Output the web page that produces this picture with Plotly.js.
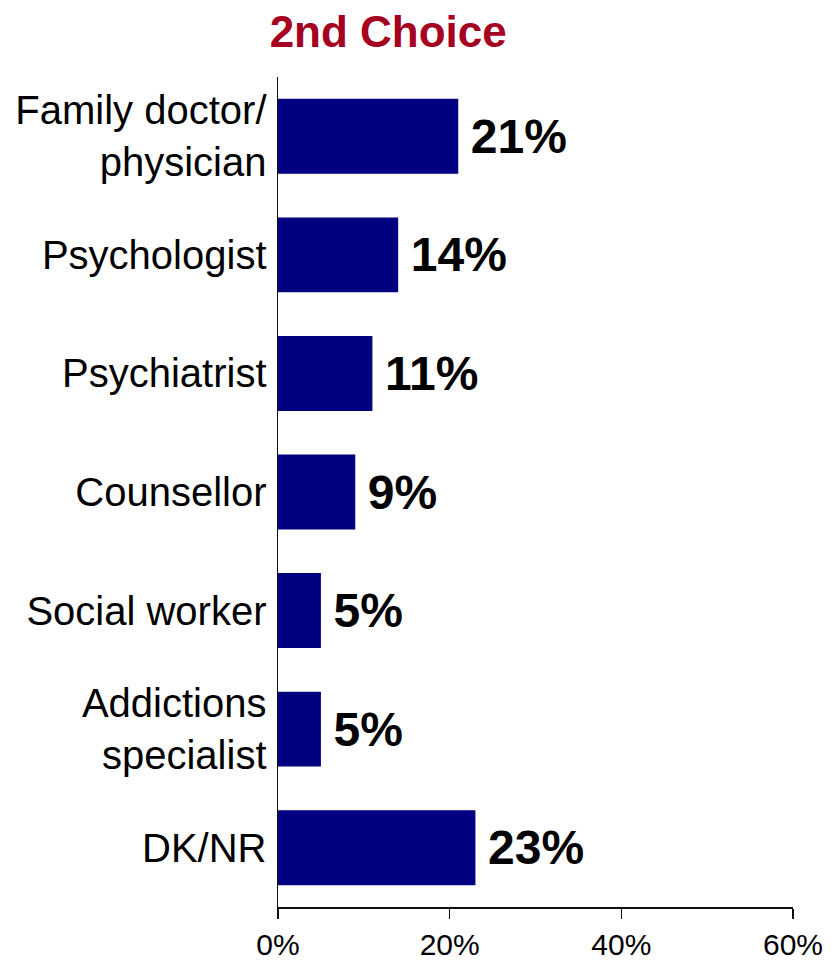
<!DOCTYPE html>
<html>
<head>
<meta charset="utf-8">
<script src="https://cdn.plot.ly/plotly-3.0.1.min.js"></script>
<style>html,body{margin:0;padding:0;background:#fff;}#chart{width:840px;height:961px;}</style>
</head>
<body>
<div id="chart"></div>
<script>
const categories = ["Family doctor/<br>physician", "Psychologist", "Psychiatrist", "Counsellor", "Social worker", "Addictions<br>specialist", "DK/NR"];
const values = [21, 14, 11, 9, 5, 5, 23];
const xTickVals = [0, 20, 40, 60];
const xTickText = ["0%", "20%", "40%", "60%"];
const chartTitle = "2nd Choice";

const sans = "'Liberation Sans', Arial, sans-serif";

const trace = {
  type: "bar",
  orientation: "h",
  y: categories,
  x: values,
  marker: {color: "#000080", line: {width: 0}},
  text: values.map(v => "\u2009" + v + "%"),
  textposition: "outside",
  textfont: {family: sans, size: 48, color: "#000", weight: "bold"},
  cliponaxis: false,
  hoverinfo: "none"
};

const layout = {
  width: 840, height: 961,
  margin: {l: 278, r: 47, t: 77, b: 54},
  paper_bgcolor: "#fff", plot_bgcolor: "#fff",
  bargap: 0.368,
  showlegend: false,
  title: {
    text: "<b>" + chartTitle + "</b>",
    font: {family: sans, size: 44, color: "#A50021"},
    xref: "paper", x: 0.214, xanchor: "center",
    yref: "container", y: 0.967, yanchor: "middle"
  },
  xaxis: {
    range: [0, 60],
    tickvals: xTickVals, ticktext: xTickText,
    showgrid: false, zeroline: false,
    showline: true, linecolor: "#111", linewidth: 1.5,
    ticks: "outside", ticklen: 10, tickwidth: 1.5, tickcolor: "#111",
    tickfont: {family: sans, size: 30, color: "#000"},
    fixedrange: true
  },
  yaxis: {
    autorange: "reversed",
    showgrid: false, zeroline: false,
    showline: true, linecolor: "#111", linewidth: 1.5,
    ticks: "", ticklabelstandoff: 2,
    tickfont: {family: sans, size: 40, color: "#000"},
    fixedrange: true
  }
};

Plotly.newPlot("chart", [trace], layout, {displayModeBar: false, staticPlot: true});
</script>
</body>
</html>
